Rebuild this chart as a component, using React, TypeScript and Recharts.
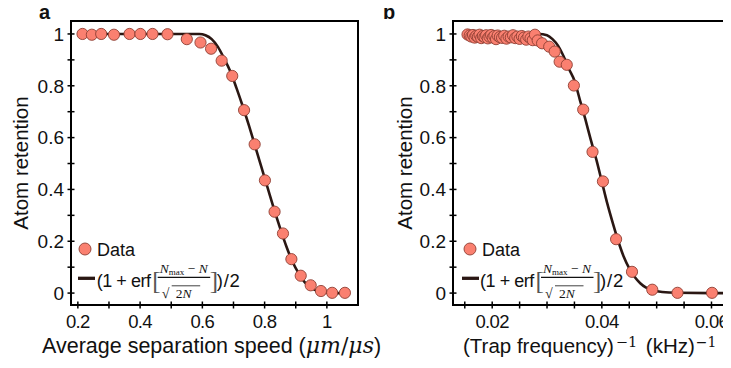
import React from "react";
import { ComposedChart, XAxis, YAxis, Scatter, Line, ReferenceArea } from "recharts";

// ---------- Panel a data ----------
const A_SPEED = [0.215, 0.245, 0.275, 0.316, 0.366, 0.401, 0.44, 0.488, 0.55, 0.594, 0.628, 0.662, 0.696, 0.734, 0.768, 0.801, 0.832, 0.859, 0.886, 0.916, 0.948, 0.981, 1.017, 1.058];
const A_RETENTION = [1.0, 0.997, 1.0, 0.997, 1.0, 1.0, 1.0, 0.999, 0.98, 0.967, 0.943, 0.897, 0.838, 0.706, 0.574, 0.435, 0.314, 0.23, 0.131, 0.067, 0.03, 0.008, 0.001, 0.001];
const A_FIT_X = [0.2, 0.59, 0.61, 0.63, 0.65, 0.67, 0.69, 0.71, 0.73, 0.75, 0.77, 0.79, 0.81, 0.83, 0.85, 0.87, 0.89, 0.91, 0.93, 0.95, 0.97, 0.99, 1.02, 1.06];
const A_FIT_Y = [1.0, 1.0, 0.995, 0.98, 0.95, 0.905, 0.855, 0.79, 0.72, 0.645, 0.565, 0.485, 0.405, 0.325, 0.25, 0.18, 0.12, 0.075, 0.04, 0.02, 0.008, 0.003, 0.0, 0.0];
const A_X_TICKS = [0.2, 0.3, 0.4, 0.5, 0.6, 0.7, 0.8, 0.9, 1.0];
const A_X_LABELS = [0.2, 0.4, 0.6, 0.8, 1.0];

// ---------- Panel b data ----------
const B_INV_FREQ = [
  0.0155, 0.0159, 0.0162, 0.0165, 0.0168, 0.0171, 0.0174, 0.0177, 0.018, 0.0183, 0.0186, 0.0189, 0.0192,
  0.0195, 0.0198, 0.0201, 0.0204, 0.0207, 0.021, 0.0214, 0.0218, 0.0222, 0.0226, 0.023, 0.0234, 0.0238,
  0.0242, 0.0246, 0.025, 0.0254, 0.0258, 0.0262, 0.0266, 0.027, 0.0274, 0.0278, 0.0283,
  0.0291, 0.0304, 0.0314, 0.0323, 0.0336, 0.0349, 0.0366, 0.0383, 0.0402, 0.0426, 0.0455, 0.0492, 0.0538, 0.0601,
];
const B_RETENTION = [
  0.998, 0.994, 0.99, 0.996, 0.986, 0.993, 0.989, 0.997, 0.984, 0.992, 0.988, 0.995, 0.983,
  0.99, 0.996, 0.986, 0.992, 0.98, 0.994, 0.988, 0.985, 0.993, 0.982, 0.99, 0.987, 0.995,
  0.984, 0.99, 0.981, 0.992, 0.986, 0.978, 0.99, 0.983, 0.976, 0.997, 0.975,
  0.964, 0.951, 0.932, 0.893, 0.881, 0.801, 0.708, 0.545, 0.431, 0.208, 0.082, 0.013, 0.001, 0.001,
];
const B_FIT_X = [0.0155, 0.0285, 0.03, 0.031, 0.032, 0.033, 0.034, 0.035, 0.036, 0.037, 0.038, 0.039, 0.04, 0.041, 0.042, 0.043, 0.044, 0.045, 0.046, 0.047, 0.048, 0.0492, 0.051, 0.0538, 0.06, 0.066];
const B_FIT_Y = [1.0, 1.0, 0.995, 0.98, 0.955, 0.915, 0.865, 0.82, 0.745, 0.67, 0.59, 0.515, 0.43, 0.345, 0.27, 0.2, 0.14, 0.095, 0.062, 0.038, 0.022, 0.012, 0.004, 0.001, 0.0, 0.0];
const B_X_TICKS = [0.015, 0.02, 0.025, 0.03, 0.035, 0.04, 0.045, 0.05, 0.055, 0.06, 0.065];
const B_X_LABELS = [0.02, 0.04, 0.06];

// ---------- shared ----------
const Y_TICKS = [0, 0.1, 0.2, 0.3, 0.4, 0.5, 0.6, 0.7, 0.8, 0.9, 1.0];
const Y_LABELS = [0, 0.2, 0.4, 0.6, 0.8, 1.0];

const SANS = "'Liberation Sans', Arial, Helvetica, sans-serif";
const SERIF = "'Liberation Serif', 'Times New Roman', serif";
const MATH = "'DejaVu Serif', 'Liberation Serif', serif";
const DOT_FILL = "#FA8070";
const DOT_STROKE = "#8E3E33";
const LINE_COLOR = "#2A1713";

const zip = (xs: number[], ys: number[]) => xs.map((x, i) => ({ x, y: ys[i] }));

const isMajor = (v: number, majors: number[]) => majors.some((m) => Math.abs(m - v) < 1e-9);
const fmt = (v: number) => String(Number(v.toFixed(4)));

const makeXTick = (majors: number[]) => (props: any) => {
  const { x, y, payload } = props;
  const v = payload.value;
  return (
    <g>
      <line x1={x} x2={x} y1={y - 3.5} y2={y + 3.5} stroke="#000" strokeWidth={1.5} />
      {isMajor(v, majors) && (
        <text x={x} y={y + 23} textAnchor="middle" fontSize={18.5} letterSpacing={-0.6} fontFamily={SANS} fill="#111">
          {fmt(v)}
        </text>
      )}
    </g>
  );
};

const YTick = (props: any) => {
  const { x, y, payload } = props;
  const v = payload.value;
  return (
    <g>
      <line x1={x - 3.5} x2={x + 3.5} y1={y} y2={y} stroke="#000" strokeWidth={1.5} />
      {isMajor(v, Y_LABELS) && (
        <text x={x - 7} y={y + 6.8} textAnchor="end" fontSize={19} fontFamily={SANS} fill="#111">
          {fmt(v)}
        </text>
      )}
    </g>
  );
};

const Dot = (props: any) => {
  const { cx, cy } = props;
  if (cx == null || cy == null) return null;
  return <circle cx={cx} cy={cy} r={5.6} fill={DOT_FILL} stroke={DOT_STROKE} strokeWidth={0.9} />;
};

const Formula = ({ x0 }: { x0: number }) => (
  <g fill="#111">
    <text x={x0} y={286.5} fontSize={18} letterSpacing={-0.45} fontFamily={SANS}>(1 + erf</text>
    <text x={x0 + 55.5} y={288.5} fontSize={25} fontFamily={SERIF} fill="#555" fontWeight={300}>[</text>
    <text x={x0 + 87} y={273} textAnchor="middle" fontSize={13.5} fontFamily={SERIF}>
      <tspan fontStyle="italic">N</tspan>
      <tspan fontSize={9} dy={2}>max</tspan>
      <tspan dy={-2}> − </tspan>
      <tspan fontStyle="italic">N</tspan>
    </text>
    <line x1={x0 + 61} x2={x0 + 113.5} y1={277.3} y2={277.3} stroke="#111" strokeWidth={1.2} />
    <text x={x0 + 65} y={297.5} fontSize={14} fontFamily={SERIF}>√</text>
    <line x1={x0 + 75} x2={x0 + 103.5} y1={285.8} y2={285.8} stroke="#111" strokeWidth={0.8} />
    <text x={x0 + 79} y={297.5} fontSize={13.5} fontFamily={SERIF}>
      2<tspan fontStyle="italic">N</tspan>
    </text>
    <text x={x0 + 113} y={288.5} fontSize={25} fontFamily={SERIF} fill="#555" fontWeight={300}>]</text>
    <text x={x0 + 120} y={286.5} fontSize={18.5} fontFamily={SANS} letterSpacing={0.8}>)/2</text>
  </g>
);

type PanelProps = {
  left: number;
  width: number;
  yAxisWidth: number;
  xDomain: [number, number];
  xTicks: number[];
  xLabels: number[];
  points: { x: number; y: number }[];
  fit: { x: number; y: number }[];
};

const Y_DOMAIN: [number, number] = [-0.046, 1.05];

const Panel = ({ left, width, yAxisWidth, xDomain, xTicks, xLabels, points, fit }: PanelProps) => (
  <div style={{ position: "absolute", left, top: 0, width, height: 368 }}>
    <ComposedChart width={width} height={368} margin={{ top: 21, right: 12, bottom: 0, left: 0 }}>
      <XAxis
        type="number"
        dataKey="x"
        domain={xDomain}
        ticks={xTicks}
        interval={0}
        axisLine={false}
        tickLine={false}
        tickSize={0}
        tickMargin={0}
        height={63}
        tick={makeXTick(xLabels)}
        allowDataOverflow
      />
      <YAxis
        type="number"
        dataKey="y"
        domain={Y_DOMAIN}
        ticks={Y_TICKS}
        interval={0}
        axisLine={false}
        tickLine={false}
        tickSize={0}
        tickMargin={0}
        width={yAxisWidth}
        tick={YTick}
        allowDataOverflow
      />
      <ReferenceArea
        x1={xDomain[0]}
        x2={xDomain[1]}
        y1={Y_DOMAIN[0]}
        y2={Y_DOMAIN[1]}
        fill="none"
        fillOpacity={0}
        stroke="#000"
        strokeWidth={2}
        ifOverflow="visible"
      />
      <Line
        data={fit}
        dataKey="y"
        type="monotone"
        stroke={LINE_COLOR}
        strokeWidth={2.6}
        dot={false}
        activeDot={false}
        isAnimationActive={false}
      />
      <Scatter data={points} dataKey="y" shape={Dot} isAnimationActive={false} />
    </ComposedChart>
  </div>
);

export default function App() {
  const aPoints = zip(A_SPEED, A_RETENTION);
  const aFit = zip(A_FIT_X, A_FIT_Y);
  const bPoints = zip(B_INV_FREQ, B_RETENTION);
  const bFit = zip(B_FIT_X, B_FIT_Y);
  return (
    <div style={{ position: "relative", width: 731, height: 368, margin: -8, overflow: "hidden", background: "#fff" }}>
      <Panel
        left={0}
        width={370}
        yAxisWidth={71}
        xDomain={[0.178, 1.1]}
        xTicks={A_X_TICKS}
        xLabels={A_X_LABELS}
        points={aPoints}
        fit={aFit}
      />
      <Panel
        left={370}
        width={382}
        yAxisWidth={83}
        xDomain={[0.01285, 0.0652]}
        xTicks={B_X_TICKS}
        xLabels={B_X_LABELS}
        points={bPoints}
        fit={bFit}
      />
      <svg width={731} height={368} style={{ position: "absolute", left: 0, top: 0, pointerEvents: "none" }}>
        {/* panel labels */}
        <text x={39} y={18.5} fontSize={20} fontWeight="bold" fontFamily={SANS} fill="#111">a</text>
        <text x={383} y={18.5} fontSize={20} fontWeight="bold" fontFamily={SANS} fill="#111">b</text>
        {/* axis titles a */}
        <text x={28} y={163} transform="rotate(-90 28 163)" textAnchor="middle" fontSize={20.5} fontFamily={SANS} fill="#111">
          Atom retention
        </text>
        <text x={42} y={353} fontSize={21.5} fontFamily={SANS} fill="#111">
          Average separation speed (<tspan fontFamily={MATH} fontStyle="italic" fontSize={22}>μm</tspan>
          <tspan fontFamily={MATH} fontSize={22}>/</tspan>
          <tspan fontFamily={MATH} fontStyle="italic" fontSize={22}>μs</tspan>)
        </text>
        {/* axis titles b */}
        <text x={412} y={163} transform="rotate(-90 412 163)" textAnchor="middle" fontSize={20.5} fontFamily={SANS} fill="#111">
          Atom retention
        </text>
        <text x={463} y={353} fontSize={20.5} fontFamily={SANS} fill="#111">
          (Trap frequency)
          <tspan fontFamily={MATH} fontSize={14.5} dx={2} dy={-6.5}>−1</tspan>
          <tspan dx={3} dy={6.5}> (kHz)</tspan>
          <tspan fontFamily={MATH} fontSize={14} dx={1} dy={-6.5}>−1</tspan>
        </text>
        {/* legend a */}
        <circle cx={85} cy={249} r={6} fill={DOT_FILL} stroke={DOT_STROKE} strokeWidth={0.9} />
        <text x={97} y={255.5} fontSize={18} fontFamily={SANS} fill="#111">Data</text>
        <line x1={78} x2={95} y1={278.3} y2={278.3} stroke={LINE_COLOR} strokeWidth={3.3} />
        <Formula x0={96.7} />
        {/* legend b */}
        <circle cx={470} cy={249} r={6} fill={DOT_FILL} stroke={DOT_STROKE} strokeWidth={0.9} />
        <text x={482} y={255.5} fontSize={18} fontFamily={SANS} fill="#111">Data</text>
        <line x1={462} x2={479} y1={278.3} y2={278.3} stroke={LINE_COLOR} strokeWidth={3.3} />
        <Formula x0={480} />
      </svg>
    </div>
  );
}
